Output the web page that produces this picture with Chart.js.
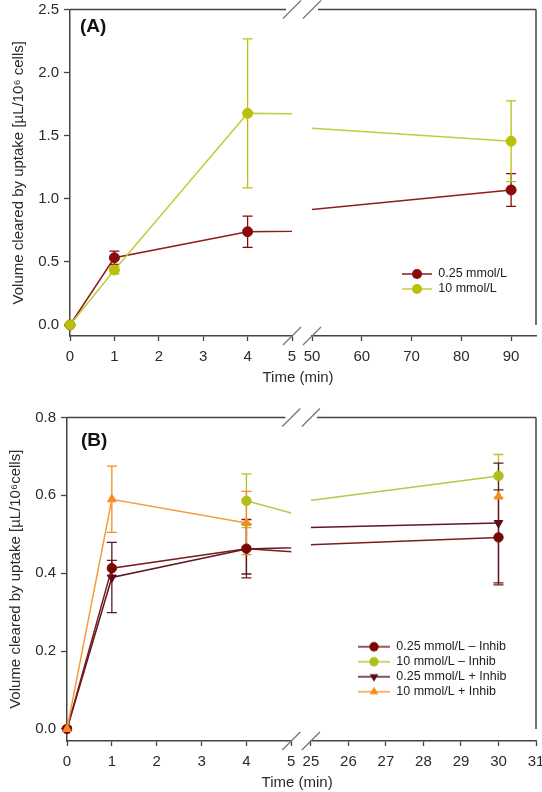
<!DOCTYPE html>
<html>
<head>
<meta charset="utf-8">
<script src="https://cdn.jsdelivr.net/npm/chart.js@4.4.1/dist/chart.umd.min.js"></script>
<style>
html,body{margin:0;padding:0;background:#fff;}
#wrapA{position:absolute;left:0;top:0;width:542px;height:387px;}
#wrapB{position:absolute;left:0;top:387px;width:542px;height:405px;}
canvas{display:block;}
</style>
</head>
<body>
<div id="wrapA"><canvas id="cA" width="542" height="387"></canvas></div>
<div id="wrapB"><canvas id="cB" width="542" height="405"></canvas></div>
<script>
// ---------------- Panel A data ----------------
const timeA = [0, 1, 4, 90];
const volA_025 = [0, 0.533, 0.739, 1.07];
const errA_025 = [0, 0.053, 0.124, 0.13];
const volA_10 = [0, 0.436, 1.677, 1.456];
const errA_10 = [0, 0.03, 0.59, 0.32];
const namesA = ['0.25 mmol/L', '10 mmol/L'];
const yTicksA = [0, 0.5, 1.0, 1.5, 2.0, 2.5];
const xTicksLeftA = [0, 1, 2, 3, 4, 5];
const xTicksRightA = [50, 60, 70, 80, 90];

// ---------------- Panel B data ----------------
const timeB = [0, 1, 4, 10, 30];
const volB_025minus = [0, 0.413, 0.463, 0.416, 0.492];
const errB_025minus = [0, 0.02, 0.075, null, 0.122];
const volB_10minus = [null, null, 0.586, 0.398, 0.650];
const errB_10minus = [null, null, 0.069, null, 0.055];
const volB_025plus = [0, 0.389, 0.462, 0.484, 0.529];
const errB_025plus = [0, 0.09, 0.064, null, 0.154];
const volB_10plus = [0, 0.590, 0.529, null, 0.597];
const errB_10plus = [0, 0.085, 0.081, null, null];
const namesB = ['0.25 mmol/L \u2013 Inhib', '10 mmol/L \u2013 Inhib', '0.25 mmol/L + Inhib', '10 mmol/L + Inhib'];
const yTicksB = [0, 0.2, 0.4, 0.6, 0.8];
const xTicksLeftB = [0, 1, 2, 3, 4, 5];
const xTicksRightB = [25, 26, 27, 28, 29, 30, 31];

const FONT = '"Liberation Sans", Arial, Helvetica, sans-serif';
Chart.defaults.font.family = FONT;
const AXIS = '#444';
const TXT = '#2b2b2b';
const X_AXIS_HEIGHT = 51;

function legendIcon(s, w) {
  const c = document.createElement('canvas');
  c.width = w; c.height = 12;
  const g = c.getContext('2d');
  g.strokeStyle = s.line; g.lineWidth = 1.5;
  g.beginPath(); g.moveTo(0, 6); g.lineTo(w, 6); g.stroke();
  g.fillStyle = s.marker;
  const cx = w / 2, cy = 6, r = s.radius;
  g.beginPath();
  if (s.style === 'circle') {
    g.arc(cx, cy, r, 0, Math.PI * 2);
  } else if (s.rot === 180) {
    g.moveTo(cx, cy + r); g.lineTo(cx - r * 0.866, cy - r / 2); g.lineTo(cx + r * 0.866, cy - r / 2);
  } else {
    g.moveTo(cx, cy - r); g.lineTo(cx - r * 0.866, cy + r / 2); g.lineTo(cx + r * 0.866, cy + r / 2);
  }
  g.closePath(); g.fill();
  return c;
}

const errorBarPlugin = {
  id: 'errorBars',
  beforeDatasetsDraw(chart) {
    const ctx = chart.ctx;
    chart.data.datasets.forEach((ds, di) => {
      if (!ds.errors) return;
      const meta = chart.getDatasetMeta(di);
      const xs = meta.xScale, ys = meta.yScale;
      ctx.save();
      ctx.strokeStyle = ds.errColor; ctx.lineWidth = 1.3;
      ds.data.forEach((pt, i) => {
        const e = ds.errors[i];
        if (pt.y == null || e == null || e === 0) return;
        if (pt.x < xs.min || pt.x > xs.max) return;
        const px = xs.getPixelForValue(pt.x);
        const y1 = ys.getPixelForValue(pt.y + e), y2 = ys.getPixelForValue(pt.y - e);
        ctx.beginPath();
        ctx.moveTo(px, y1); ctx.lineTo(px, y2);
        ctx.moveTo(px - 5, y1); ctx.lineTo(px + 5, y1);
        ctx.moveTo(px - 5, y2); ctx.lineTo(px + 5, y2);
        ctx.stroke();
      });
      ctx.restore();
    });
  }
};

const framePlugin = {
  id: 'frame',
  afterDraw(chart, args, opts) {
    const {ctx, chartArea} = chart;
    const xL = chart.scales.xL, xR = chart.scales.xR, y = chart.scales.y;
    const top = chartArea.top;
    ctx.save();
    ctx.strokeStyle = AXIS; ctx.lineWidth = 1.5;
    ctx.beginPath();
    ctx.moveTo(chartArea.left, top); ctx.lineTo(xL.right - 6, top);
    ctx.moveTo(xR.left + 6, top); ctx.lineTo(chartArea.right, top);
    ctx.moveTo(chartArea.right, top); ctx.lineTo(chartArea.right, y.getPixelForValue(0));
    ctx.stroke();
    ctx.strokeStyle = '#777'; ctx.lineWidth = 1.3;
    [top, chartArea.bottom].forEach(cy => {
      [xL.right, xR.left].forEach(cx => {
        ctx.beginPath(); ctx.moveTo(cx - 9, cy + 9); ctx.lineTo(cx + 9, cy - 9); ctx.stroke();
      });
    });
    ctx.fillStyle = '#111';
    ctx.font = 'bold 19px ' + FONT;
    ctx.textBaseline = 'middle'; ctx.textAlign = 'left';
    ctx.fillText(opts.label, opts.lx, opts.ly);
    ctx.restore();
  }
};

const legendMover = {
  id: 'legendMover',
  afterLayout(chart, args, opts) {
    const lg = chart.legend;
    if (lg) {
      const w = lg.width, h = lg.height;
      lg.left = opts.left; lg.top = opts.top; lg.right = opts.left + w; lg.bottom = opts.top + h;
    }
    // widen the (otherwise empty) gap axis so its title is not squeezed
    const g = chart.scales.xG;
    if (g) { g.left -= 48; g.right += 40; g.width = g.right - g.left; }
  }
};

function makeChart(id, p) {
  const datasets = [];
  p.series.forEach((s, si) => {
    ['xL', 'xR'].forEach(axis => {
      datasets.push({
        label: s.name,
        data: p.time.map((t, i) => ({x: t, y: s.values[i]})),
        errors: s.errors,
        errColor: s.err,
        xAxisID: axis, yAxisID: 'y',
        borderColor: s.line, backgroundColor: s.marker,
        pointBackgroundColor: s.marker, pointBorderColor: s.marker,
        pointStyle: s.style, pointRotation: s.rot || 0, pointRadius: s.radius,
        pointBorderWidth: 1, borderWidth: 1.5, tension: 0, spanGaps: false,
        order: s.order,
        clip: axis === 'xL' ? {left: 10, right: 0, top: 10, bottom: 10} : {left: 0, right: 10, top: 10, bottom: 10}
      });
    });
  });
  const tickFont = {size: 15, family: FONT};
  const xBase = (min, max, ticks, weight) => ({
    type: 'linear', position: 'bottom', stack: 'time', stackWeight: weight,
    min: min, max: max,
    afterBuildTicks: sc => { sc.ticks = ticks.map(v => ({value: v})); },
    afterFit: sc => { sc.paddingLeft = 0; sc.paddingRight = 0; sc.height = X_AXIS_HEIGHT; },
    ticks: {font: tickFont, color: TXT, padding: 7, maxRotation: 0, autoSkip: false},
    grid: {display: true, drawOnChartArea: false, drawTicks: true, tickLength: 5, tickColor: AXIS, tickWidth: 1.3},
    border: {display: true, color: AXIS, width: 1.5}
  });
  return new Chart(document.getElementById(id), {
    type: 'line',
    data: {datasets},
    plugins: [errorBarPlugin, framePlugin, legendMover],
    options: {
      responsive: false, animation: false, events: [],
      layout: {padding: p.pad},
      scales: {
        xL: xBase(0, 5, p.xTicksL, p.wL),
        xG: {
          type: 'linear', position: 'bottom', stack: 'time', stackWeight: p.wG, min: 0, max: 1,
          afterFit: sc => { sc.height = X_AXIS_HEIGHT; },
          ticks: {display: false}, grid: {display: false, drawTicks: false}, border: {display: false},
          title: {display: true, text: 'Time (min)', font: {size: 15, family: FONT}, color: TXT, padding: {top: 33, bottom: 0}}
        },
        xR: xBase(p.xRmin, p.xRmax, p.xTicksR, p.wR),
        y: {
          type: 'linear', position: 'left', min: p.yMin, max: p.yMax,
          afterBuildTicks: sc => { sc.ticks = p.yTicks.map(v => ({value: v})); },
          afterFit: sc => { sc.width = p.yW; sc.paddingTop = 0; sc.paddingBottom = 0; },
          ticks: {callback: v => Number(v).toFixed(1), font: tickFont, color: TXT, padding: 5},
          grid: {display: true, drawOnChartArea: false, drawTicks: true, tickLength: 6, tickColor: AXIS, tickWidth: 1.3},
          border: {display: true, color: AXIS, width: 1.5},
          title: {display: true, text: p.yTitle, font: {size: 15, family: FONT}, color: TXT, padding: {top: p.yTitlePad, bottom: 0}}
        }
      },
      plugins: {
        tooltip: {enabled: false},
        legend: {
          display: true, position: 'chartArea', align: 'start',
          labels: {
            usePointStyle: true, pointStyleWidth: p.legW, padding: 2.5,
            font: {size: 12.5, family: FONT}, color: '#222',
            generateLabels: () => p.series.map((s, si) => ({
              text: s.name, pointStyle: legendIcon(s, p.legW), fillStyle: s.marker,
              strokeStyle: s.line, lineWidth: 0, hidden: false, datasetIndex: si * 2, fontColor: '#222'
            }))
          }
        },
        legendMover: p.legPos,
        frame: p.frame
      }
    }
  });
}

makeChart('cA', {
  time: timeA,
  series: [
    {name: namesA[0], values: volA_025, errors: errA_025, marker: '#8b0a0a', line: '#8e1d1d', err: '#8b0a0a', style: 'circle', radius: 5, order: 1},
    {name: namesA[1], values: volA_10, errors: errA_10, marker: '#b8c00c', line: '#c2cb3c', err: '#b8c00c', style: 'circle', radius: 5, order: 0}
  ],
  xTicksL: xTicksLeftA, xTicksR: xTicksRightA, xRmin: 50, xRmax: 95,
  wL: 222, wG: 20, wR: 224,
  yMin: -0.087, yMax: 2.5, yTicks: yTicksA, yW: 70,
  yTitle: 'Volume cleared by uptake [\u00b5L/10\u2076 cells]', yTitlePad: 9.5,
  pad: {left: 0, top: 9.5, right: 6, bottom: 0},
  legW: 30, legPos: {left: 399.5, top: 265.25},
  frame: {label: '(A)', lx: 80, ly: 26.5}
});

makeChart('cB', {
  time: timeB,
  series: [
    {name: namesB[0], values: volB_025minus, errors: errB_025minus, marker: '#7a0606', line: '#7a1c1c', err: '#7a1c1c', style: 'circle', radius: 4.7, order: 2},
    {name: namesB[1], values: volB_10minus, errors: errB_10minus, marker: '#afbd1e', line: '#b9c64a', err: '#b3c12a', style: 'circle', radius: 4.7, order: 1},
    {name: namesB[2], values: volB_025plus, errors: errB_025plus, marker: '#5e0b16', line: '#5e1822', err: '#5e1822', style: 'triangle', rot: 180, radius: 5, order: 3},
    {name: namesB[3], values: volB_10plus, errors: errB_10plus, marker: '#f78c1e', line: '#f79a3c', err: '#f78c1e', style: 'triangle', rot: 0, radius: 5, order: 0}
  ],
  xTicksL: xTicksLeftB, xTicksR: xTicksRightB, xRmin: 25, xRmax: 31,
  wL: 225, wG: 19.7, wR: 225.8,
  yMin: -0.031, yMax: 0.8, yTicks: yTicksB, yW: 67,
  yTitle: 'Volume cleared by uptake [\u00b5L/10\u2076cells]', yTitlePad: 6.5,
  pad: {left: 0, top: 30.5, right: 4.5, bottom: 0},
  legW: 32, legPos: {left: 355.5, top: 250.95},
  frame: {label: '(B)', lx: 81, ly: 53.5}
});
</script>
</body>
</html>
